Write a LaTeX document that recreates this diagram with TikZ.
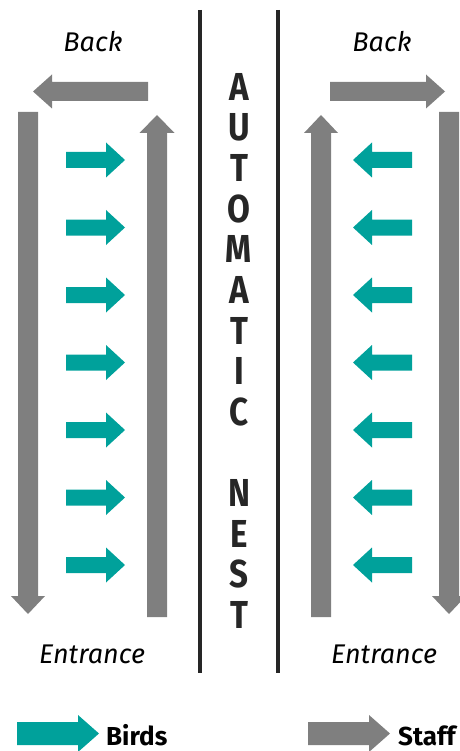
\documentclass[tikz,border=0pt]{standalone}
\usepackage{fontspec}
\setmainfont{Fira Sans}
\definecolor{birdteal}{RGB}{0,161,155}
\definecolor{staffgray}{RGB}{127,127,127}
\definecolor{wallgray}{RGB}{38,38,38}

% horizontal block arrow: style, tail x, head-base x, tip x, y, body half-height, head half-height
\newcommand\hArrow[7]{%
  \fill[#1] (#2,#5-#6) -- (#3,#5-#6) -- (#3,#5-#7) -- (#4,#5)
    -- (#3,#5+#7) -- (#3,#5+#6) -- (#2,#5+#6) -- cycle;}
% vertical block arrow: style, x, tail y, head-base y, tip y, body half-width, head half-width
\newcommand\vArrow[7]{%
  \fill[#1] (#2-#6,#3) -- (#2-#6,#4) -- (#2-#7,#4) -- (#2,#5)
    -- (#2+#7,#4) -- (#2+#6,#4) -- (#2+#6,#3) -- cycle;}

\tikzset{
  side/.style={font=\fontsize{27}{30}\selectfont\itshape, anchor=base, inner sep=0pt},
  title/.style={font=\fontsize{39}{40}\selectfont\bfseries, text=wallgray, inner sep=0pt, xscale=0.85},
  legend/.style={font=\fontsize{26}{30}\selectfont\bfseries, anchor=base west, inner sep=0pt},
  wall/.style={draw=wallgray, line width=4pt},
}

\begin{document}
\begin{tikzpicture}[x=1pt, y=-1pt]
  \useasboundingbox (0,0) rectangle (459,751);

  % nest walls
  \coordinate (lwtop) at (200,10);
  \coordinate (lwbot) at (200,673);
  \coordinate (rwtop) at (278,10);
  \coordinate (rwbot) at (278,673);
  \draw[wall] (lwtop) -- (lwbot);
  \draw[wall] (rwtop) -- (rwbot);

  % title letters
  \foreach \ch [count=\i from 0] in {A,U,T,O,M,A,T,I,C,{},N,E,S,T}
    \node[title] (t\i) at (239, 87+40.6*\i) {\ch};

  % labels
  \node[side] (backL) at (93,52) {Back};
  \node[side] (backR) at (382,52) {Back};
  \node[side] (entL) at (92,663) {Entrance};
  \node[side] (entR) at (384,663) {Entrance};

  % staff circulation, left side
  \hArrow{staffgray}{148}{52}{33}{91.5}{9.5}{17}
  \vArrow{staffgray}{28}{112}{596}{614}{10}{17}
  \vArrow{staffgray}{157}{617}{133}{115}{10}{17.5}
  % staff circulation, right side
  \hArrow{staffgray}{330}{426}{445}{91.5}{9.5}{17}
  \vArrow{staffgray}{321}{617}{133}{115}{10}{17}
  \vArrow{staffgray}{449}{112}{596}{614}{10}{17}

  % birds entering the nest from both sides
  \foreach \k in {0,...,6} {
    \hArrow{birdteal}{66}{106}{125}{160+67.5*\k}{8}{17.5}
    \hArrow{birdteal}{412}{372}{353}{160+67.5*\k}{8}{17.5}
  }

  % legend
  \hArrow{birdteal}{17}{78}{99}{733.5}{11.5}{18.5}
  \node[legend] (birds) at (106,745) {Birds};
  \hArrow{staffgray}{308}{369}{390}{733.5}{11.5}{18.5}
  \node[legend] (staff) at (398,745) {Staff};
\end{tikzpicture}
\end{document}
